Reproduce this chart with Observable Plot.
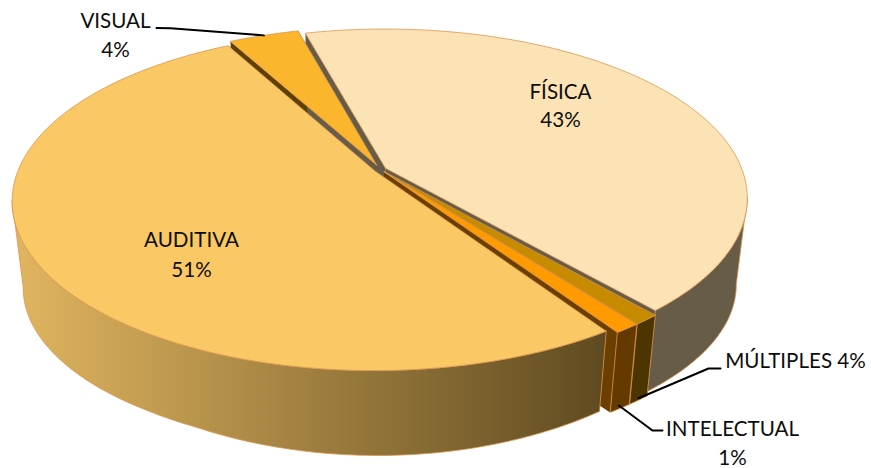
<!DOCTYPE html>
<html><head><meta charset="utf-8">
<script src="https://cdn.jsdelivr.net/npm/d3@7"></script>
<script src="https://cdn.jsdelivr.net/npm/@observablehq/plot@0.6"></script>
<style>html,body{margin:0;padding:0;background:#fff}</style>
</head><body><div id="chart"></div>
<script>
// Data
const categories = ["VISUAL","FÍSICA","MÚLTIPLES","INTELECTUAL","AUDITIVA"];
const percentLabels = ["4%","43%","4%","1%","51%"];
const drawnShare = [3.7,42.6,1.0,1.0,51.2];
const topColors = ["#FBB62D","#FCE3B5","#C78B00","#FF9A00","#FAC864"];
const wallColors = ["#5E4000","#675C48","#4D3500","#653A00","url(#wallGrad)"];
const faceColors = ["#5E4000","#675C48","#4D3500","#6B3F00","#5E4A20"];
const explode = [0.028,0.016,0.018,0.018,0.018];

// Pie view (layout)
const W=871,H=468,cx=380,cy=169,a=356.5,b=164,p=0.175,startDeg=-28.5;
const rad=d=>d*Math.PI/180;
const total=d3.sum(drawnShare);
let acc=startDeg;
const slices=categories.map((name,i)=>{
  const t0=acc,t1=acc+drawnShare[i]/total*360;acc=t1;
  const mid=(t0+t1)/2;
  return {name,i,t0,t1,mid,ox:explode[i]*Math.sin(rad(mid)),oy:-explode[i]*Math.cos(rad(mid))};
});
function proj(X,Y){const s=1-p*Y;return {x:cx+a*X/s,y:cy+b*Y/s};}
function rimTop(s,t){return proj(s.ox+Math.sin(rad(t)),s.oy-Math.cos(rad(t)));}
function apexTop(s){return proj(s.ox,s.oy);}
function down(q){
  const u=(q.x-400)/210;
  return {x:cx+0.97*(q.x-cx),y:q.y+80+5*Math.max(0,1-u*u)+0.05*Math.max(0,330-q.y)};
}
function range(t0,t1){const n=Math.max(2,Math.ceil(Math.abs(t1-t0)));return d3.range(n+1).map(k=>t0+(t1-t0)*k/n);}
const close=pts=>[...pts,pts[0]];
const poly=(pts,fill,stroke="#D9954F",sw=0.8)=>Plot.line(close(pts),{x:"x",y:"y",fill,stroke,strokeWidth:sw,curve:"linear"});

const marks=[];
marks.push(()=>{
  const ns="http://www.w3.org/2000/svg";
  const defs=document.createElementNS(ns,"defs");
  defs.innerHTML=`<linearGradient id="wallGrad" gradientUnits="userSpaceOnUse" x1="20" y1="0" x2="606" y2="0"><stop offset="0" stop-color="#DFB45F"/><stop offset="1" stop-color="#5F4A20"/></linearGradient>`;
  return defs;
});
// radial cut faces
for(const s of slices){
  for(const t of [s.t0,s.t1]){
    const A=apexTop(s),R=rimTop(s,t);
    marks.push(poly([A,R,down(R),down(A)],faceColors[s.i],"none",0));
  }
}
// outer walls, back to front
for(const i of [1,2,3,4,0]){
  const s=slices[i];
  const t0=Math.max(s.t0,100),t1=Math.min(s.t1,260);
  if(t1<=t0) continue;
  const ts=range(t0,t1),topE=ts.map(t=>rimTop(s,t));
  marks.push(poly([...topE,...topE.slice().reverse().map(down)],wallColors[i]));
}
// top faces
for(const s of slices){
  const A=apexTop(s),rim=range(s.t0,s.t1).map(t=>rimTop(s,t));
  marks.push(poly([A,...rim],topColors[s.i]));
}
// leader lines: start on the slice wall, end at the label elbow
const leaderStyle={x:"x",y:"y",stroke:"#000",strokeWidth:2,curve:"linear"};
const vis=slices[0],mul=slices[2],inte=slices[3];
const mq=down(rimTop(mul,mul.mid)),iq=down(rimTop(inte,inte.mid));
marks.push(Plot.line([{x:156,y:27.5},{x:170,y:27.8},rimTop(vis,vis.mid)],leaderStyle));
marks.push(Plot.line([{x:720,y:368},{x:708,y:368},{x:mq.x,y:mq.y-2}],leaderStyle));
marks.push(Plot.line([{x:662,y:430},{x:652,y:430},{x:iq.x-1,y:iq.y-3}],leaderStyle));
// labels
const textOpts={x:"x",y:"y",text:"text",fontFamily:"Lato, 'Open Sans', sans-serif",fontSize:20.6,fill:"#0d0d0d",lineAnchor:"middle",textAnchor:"middle"};
const labelLines=[
 {x:115,y:21,text:categories[0]},{x:115,y:50,text:percentLabels[0]},
 {x:560,y:92,text:categories[1]},{x:560,y:120,text:percentLabels[1]},
 {x:795,y:361,text:categories[2]+" "+percentLabels[2]},
 {x:732,y:429,text:categories[3]},{x:732,y:458,text:percentLabels[3]},
 {x:191,y:240,text:categories[4]},{x:191,y:270,text:percentLabels[4]}
];
marks.push(Plot.text(labelLines,textOpts));

const chart=Plot.plot({width:W,height:H,margin:0,
  x:{domain:[0,W],range:[0,W],axis:null},
  y:{domain:[0,H],range:[0,H],axis:null},
  style:{background:"#fff",overflow:"hidden"},
  marks});
document.getElementById("chart").append(chart);
</script></body></html>
